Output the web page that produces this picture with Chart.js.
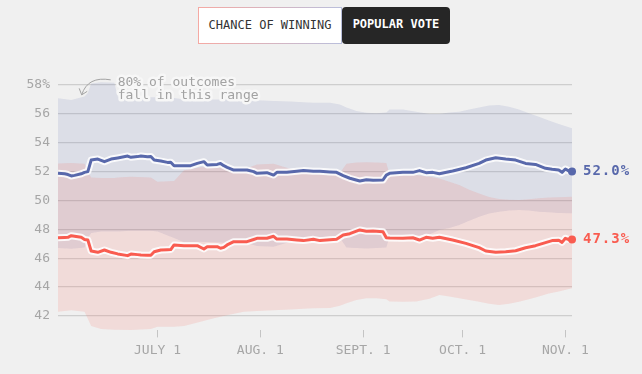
<!DOCTYPE html>
<html>
<head>
<meta charset="utf-8">
<script src="https://cdn.jsdelivr.net/npm/chart.js@4.4.1/dist/chart.umd.min.js"></script>
<style>
  html, body { margin: 0; padding: 0; background: #f0f0f0; }
  #wrap { position: relative; width: 642px; height: 374px; }
  .btn {
    position: absolute; top: 7px; height: 37px; box-sizing: border-box;
    font: 12px "DejaVu Sans Mono", monospace; line-height: 35px; text-align: center;
  }
  #b1 { left: 198px; width: 144px; background: #fff; color: #333;
        border: 1px solid; border-image: linear-gradient(to right, #f5a9a3, #b9bfdc) 1; }
  #b2 { left: 342px; width: 108px; background: #262626; color: #fff; font-weight: bold;
        border-radius: 4px; }
</style>
</head>
<body>
<div id="wrap">
  <canvas id="myChart" width="642" height="374"></canvas>
  <div class="btn" id="b1">CHANCE OF WINNING</div>
  <div class="btn" id="b2">POPULAR VOTE</div>
</div>
<script>
// days since June 1
var lineDays = [0, 2, 3, 4, 5, 7, 8, 9, 10, 12, 14, 16, 18, 21, 22, 24, 25, 27, 28, 29, 31, 33, 34, 35, 38, 40, 42, 44, 45, 48, 49, 50, 51, 53, 57, 59, 60, 63, 65, 66, 69, 72, 74, 77, 79, 82, 84, 86, 88, 91, 93, 95, 98, 99, 100, 104, 107, 109, 111, 113, 115, 119, 123, 127, 129, 132, 135, 138, 141, 144, 147, 149, 151, 152, 153, 154, 155];
var blueVote = [51.88, 51.85, 51.80, 51.70, 51.74, 51.85, 51.95, 52.00, 52.80, 52.87, 52.69, 52.87, 52.95, 53.08, 52.99, 53.04, 53.08, 53.03, 53.05, 52.80, 52.73, 52.64, 52.65, 52.41, 52.40, 52.41, 52.57, 52.69, 52.46, 52.50, 52.57, 52.41, 52.30, 52.11, 52.11, 52.00, 51.88, 51.93, 51.76, 51.95, 51.95, 52.02, 52.07, 52.02, 52.02, 51.98, 51.95, 51.72, 51.54, 51.35, 51.44, 51.40, 51.42, 51.76, 51.88, 51.95, 51.95, 52.07, 51.93, 51.95, 51.85, 52.04, 52.27, 52.57, 52.80, 52.96, 52.87, 52.80, 52.57, 52.50, 52.23, 52.16, 52.11, 51.95, 52.18, 52.05, 52.0];
var redVote = [47.42, 47.44, 47.45, 47.56, 47.52, 47.45, 47.30, 47.26, 46.50, 46.41, 46.57, 46.41, 46.30, 46.18, 46.29, 46.25, 46.22, 46.20, 46.21, 46.45, 46.57, 46.59, 46.60, 46.92, 46.87, 46.87, 46.87, 46.64, 46.80, 46.80, 46.69, 46.75, 46.92, 47.15, 47.15, 47.30, 47.38, 47.38, 47.52, 47.33, 47.33, 47.26, 47.22, 47.31, 47.22, 47.28, 47.31, 47.61, 47.70, 47.96, 47.87, 47.89, 47.84, 47.42, 47.40, 47.38, 47.42, 47.26, 47.45, 47.38, 47.45, 47.26, 47.03, 46.73, 46.50, 46.41, 46.45, 46.52, 46.73, 46.87, 47.08, 47.22, 47.24, 47.10, 47.38, 47.30, 47.3];

// 80% ranges
var bandDays = [0, 4, 8, 9, 10, 13, 17, 18, 22, 28, 30, 35, 38, 43, 47, 52, 56, 60, 65, 70, 74, 77, 82, 85, 87, 90, 93, 96, 99, 100, 104, 108, 112, 115, 118, 121, 124, 127, 130, 133, 136, 139, 142, 145, 148, 151, 155];
var blueHigh = [57.08, 56.96, 57.20, 57.45, 58.10, 58.20, 58.15, 57.20, 57.15, 57.15, 57.15, 57.10, 57.00, 57.00, 57.00, 57.00, 56.95, 56.95, 56.90, 56.85, 56.80, 56.77, 56.77, 56.65, 56.45, 56.20, 56.08, 56.05, 56.10, 56.30, 56.30, 56.15, 56.00, 56.00, 56.10, 56.15, 56.30, 56.45, 56.58, 56.61, 56.50, 56.31, 56.05, 55.80, 55.55, 55.30, 55.00];
var blueLow = [46.70, 46.65, 46.75, 47.40, 47.75, 47.85, 47.85, 47.85, 47.90, 47.90, 47.85, 47.40, 47.10, 47.15, 47.10, 47.05, 47.10, 46.85, 46.80, 47.15, 47.25, 47.40, 47.50, 47.40, 46.75, 46.70, 46.68, 46.70, 46.75, 47.50, 47.55, 47.55, 47.65, 47.96, 48.10, 48.30, 48.60, 48.88, 49.10, 49.22, 49.30, 49.34, 49.30, 49.22, 49.18, 49.14, 49.11];
var redHigh = [52.57, 52.60, 52.55, 52.00, 51.60, 51.55, 51.55, 51.60, 51.65, 51.60, 51.30, 51.35, 52.10, 52.30, 52.30, 52.25, 52.15, 52.50, 52.55, 52.20, 52.05, 51.85, 51.76, 51.90, 52.55, 52.64, 52.65, 52.64, 52.60, 51.80, 51.76, 51.76, 51.65, 51.53, 51.30, 51.07, 50.75, 50.49, 50.25, 50.10, 50.05, 50.03, 50.08, 50.15, 50.20, 50.22, 50.26];
var redLow = [42.30, 42.40, 42.30, 41.80, 41.30, 41.10, 41.05, 41.05, 41.03, 41.10, 41.25, 41.26, 41.30, 41.60, 41.85, 42.10, 42.30, 42.35, 42.40, 42.45, 42.50, 42.53, 42.55, 42.70, 42.88, 43.10, 43.22, 43.22, 43.15, 43.00, 42.99, 43.00, 43.20, 43.45, 43.35, 43.22, 43.10, 42.99, 42.85, 42.76, 42.85, 42.99, 43.15, 43.34, 43.55, 43.70, 43.92];

var monthTicks = [30, 61, 92, 122, 153];
var monthLabels = ['JULY 1', 'AUG. 1', 'SEPT. 1', 'OCT. 1', 'NOV. 1'];
var yTicks = [42, 44, 46, 48, 50, 52, 54, 56, 58];

var BLUE = '#5868ab';
var RED = '#f95c50';

function pts(days, vals) {
    return days.map(function (d, i) { return { x: d, y: vals[i] }; });
}
var last = lineDays.length - 1;
function endDot(c) { return c.dataIndex === last ? 4 : 0; }

var extras = {
    id: 'extras',
    afterDatasetsDraw: function (chart) {
        var c = chart.ctx, xs = chart.scales.x, ys = chart.scales.y;
        c.save();
        // annotation
        var tx = xs.getPixelForValue(18), ty = ys.getPixelForValue(58.15);
        c.font = '13px "DejaVu Sans Mono", monospace';
        c.textBaseline = 'middle';
        c.lineJoin = 'round';
        var lines = ['80% of outcomes', 'fall in this range'];
        lines.forEach(function (t, i) {
            c.strokeStyle = '#f7f7f7';
            c.lineWidth = 5;
            c.strokeText(t, tx, ty + i * 12.5);
        });
        c.fillStyle = '#a2a2a2';
        lines.forEach(function (t, i) { c.fillText(t, tx, ty + i * 12.5); });
        // arrow
        c.strokeStyle = '#a2a2a2';
        c.lineWidth = 1;
        c.beginPath();
        c.moveTo(tx - 7, ty - 3);
        c.quadraticCurveTo(tx - 30, ty - 7, tx - 36, ty + 12);
        c.moveTo(tx - 38.5, ty + 5.5);
        c.lineTo(tx - 36, ty + 12);
        c.lineTo(tx - 30.5, ty + 8.5);
        c.stroke();
        // end labels
        c.font = 'bold 14px "DejaVu Sans Mono", monospace';
        c.letterSpacing = '1px';
        c.textAlign = 'left';
        var ex = chart.chartArea.right + 11;
        c.fillStyle = BLUE;
        c.fillText(blueVote[last].toFixed(1) + '%', ex, ys.getPixelForValue(blueVote[last]));
        c.fillStyle = RED;
        c.fillText(redVote[last].toFixed(1) + '%', ex, ys.getPixelForValue(redVote[last]));
        c.restore();
    }
};

var ctx = document.getElementById('myChart').getContext('2d');
var voteChart = new Chart(ctx, {
    type: 'line',
    data: {
        datasets: [{
            data: pts(bandDays, blueHigh), fill: '+1', backgroundColor: 'rgba(88,104,170,0.13)',
            borderWidth: 0, pointRadius: 0, order: 6
        }, {
            data: pts(bandDays, blueLow), fill: false, borderWidth: 0, pointRadius: 0, order: 6
        }, {
            data: pts(bandDays, redHigh), fill: '+1', backgroundColor: 'rgba(250,90,80,0.14)',
            borderWidth: 0, pointRadius: 0, order: 5
        }, {
            data: pts(bandDays, redLow), fill: false, borderWidth: 0, pointRadius: 0, order: 5
        }, {
            data: pts(lineDays, blueVote), borderColor: 'rgba(255,255,255,0.85)', borderWidth: 7,
            pointRadius: 0, order: 3, clip: 8
        }, {
            data: pts(lineDays, redVote), borderColor: 'rgba(255,255,255,0.85)', borderWidth: 7,
            pointRadius: 0, order: 3, clip: 8
        }, {
            data: pts(lineDays, blueVote), borderColor: BLUE, borderWidth: 3,
            pointRadius: endDot, pointBackgroundColor: BLUE, pointBorderWidth: 0, order: 1, clip: 8
        }, {
            data: pts(lineDays, redVote), borderColor: RED, borderWidth: 3,
            pointRadius: endDot, pointBackgroundColor: RED, pointBorderWidth: 0, order: 1, clip: 8
        }]
    },
    options: {
        responsive: false,
        animation: false,
        events: [],
        layout: { padding: { top: 77.8, right: 70, left: 0, bottom: 0 } },
        elements: { line: { tension: 0, borderJoinStyle: 'round' } },
        plugins: { legend: { display: false }, tooltip: { enabled: false } },
        scales: {
            x: {
                type: 'linear', min: 0, max: 155,
                afterBuildTicks: function (s) { s.ticks = monthTicks.map(function (v) { return { value: v }; }); },
                afterFit: function (s) { s.height = 43.6; },
                grid: { drawOnChartArea: false, drawTicks: true, tickLength: 7, color: '#c4c4c4' },
                border: { display: false },
                ticks: {
                    padding: 5, color: '#a6a6a6', maxRotation: 0, autoSkip: false,
                    font: { family: '"DejaVu Sans Mono", monospace', size: 13 },
                    callback: function (v) { return monthLabels[monthTicks.indexOf(v)]; }
                }
            },
            y: {
                min: 41, max: 58.5,
                afterBuildTicks: function (s) { s.ticks = yTicks.map(function (v) { return { value: v }; }); },
                afterFit: function (s) { s.width = 58; },
                grid: { drawTicks: false, color: 'rgba(0,0,0,0.14)', lineWidth: 1.3 },
                border: { display: false },
                ticks: {
                    padding: 8, color: '#a6a6a6',
                    font: { family: '"DejaVu Sans Mono", monospace', size: 13 },
                    callback: function (v) { return v === 58 ? '58%' : String(v); }
                }
            }
        }
    },
    plugins: [extras]
});
</script>
</body>
</html>
